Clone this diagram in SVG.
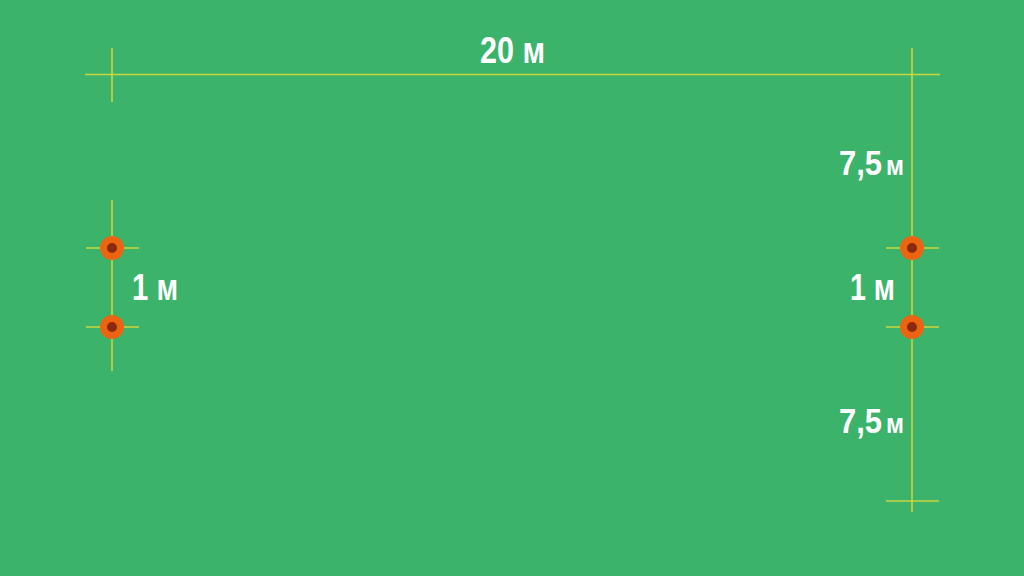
<svg xmlns="http://www.w3.org/2000/svg" width="1024" height="576" viewBox="0 0 1024 576">
<style>
.ln{stroke:#cbd63c;stroke-width:1.6;fill:none}
.t{font-family:"Liberation Sans",Arial,sans-serif;font-weight:bold;fill:#ffffff;font-size:36px}
.s{font-size:27px}
.o{fill:#ec6411}
.i{fill:#8a2a0c}
</style>
<rect width="1024" height="576" fill="#3bb36b"/>
<g id="connectors">
<line class="ln" x1="85" y1="74.5" x2="940" y2="74.5"/>
<line class="ln" x1="112" y1="48" x2="112" y2="102"/>
<line class="ln" x1="912" y1="48" x2="912" y2="512"/>
<line class="ln" x1="112" y1="200" x2="112" y2="371"/>
<line class="ln" x1="86" y1="248" x2="139" y2="248"/>
<line class="ln" x1="86" y1="327" x2="139" y2="327"/>
<line class="ln" x1="886" y1="248" x2="939" y2="248"/>
<line class="ln" x1="886" y1="327" x2="939" y2="327"/>
<line class="ln" x1="886" y1="501" x2="939" y2="501"/>
</g>
<g id="p1"><circle class="o" cx="112" cy="248" r="12"/><circle class="i" cx="112" cy="248" r="5"/></g>
<g id="p2"><circle class="o" cx="112" cy="327" r="12"/><circle class="i" cx="112" cy="327" r="5"/></g>
<g id="p3"><circle class="o" cx="912" cy="248" r="12"/><circle class="i" cx="912" cy="248" r="5"/></g>
<g id="p4"><circle class="o" cx="912" cy="327" r="12"/><circle class="i" cx="912" cy="327" r="5"/></g>
<g id="labels">
<text class="t" x="480" y="63" textLength="65" lengthAdjust="spacingAndGlyphs">20 м</text>
<text class="t" transform="translate(839 175) scale(0.86 1)" x="0" y="0">7,5</text>
<text class="t s" transform="translate(886 175) scale(0.9 1)" x="0" y="0">м</text>
<text class="t" transform="translate(839 433) scale(0.86 1)" x="0" y="0">7,5</text>
<text class="t s" transform="translate(886 433) scale(0.9 1)" x="0" y="0">м</text>
<text class="t" x="132" y="300" textLength="46" lengthAdjust="spacingAndGlyphs">1 м</text>
<text class="t" x="850" y="300" textLength="45" lengthAdjust="spacingAndGlyphs">1 м</text>
</g>
</svg>
